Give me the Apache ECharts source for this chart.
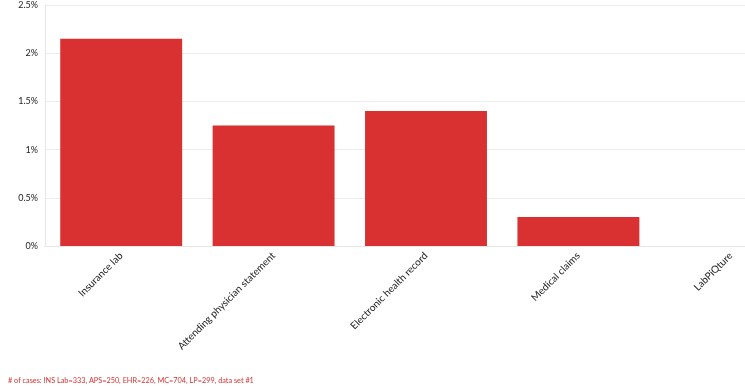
<!DOCTYPE html>
<html><head><meta charset="utf-8">
<script src="https://cdn.jsdelivr.net/npm/echarts@6/dist/echarts.min.js"></script>
<style>html,body{margin:0;padding:0;background:#fff;overflow:hidden;width:745px;height:391px}#c{width:807px;height:391px}</style>
</head><body><div id="c"></div>
<script>
const categories = ["Insurance lab","Attending physician statement","Electronic health record","Medical claims","LabPiQture"];
const values = [2.15, 1.25, 1.4, 0.3, 0];
const yTicks = [0, 0.5, 1, 1.5, 2, 2.5];
const footnote = "# of cases: INS Lab=333, APS=250, EHR=226, MC=704, LP=299, data set #1";

const chart = echarts.init(document.getElementById('c'));
chart.setOption({
  animation:false,
  textStyle:{fontFamily:'Lato, sans-serif'},
  graphic:[{type:'text',left:8,top:377,style:{text:footnote,fill:'#d93131',font:'7.3px Lato, sans-serif'}}],
  grid:{left:45,right:0,top:5,bottom:145,containLabel:false},
  xAxis:{type:'category',data:categories,
    axisLine:{lineStyle:{color:'#e6e6e6'}},
    axisTick:{alignWithLabel:true,length:4,lineStyle:{color:'#e6e6e6'}},
    axisLabel:{rotate:45,interval:0,color:'#222',fontSize:10,margin:8}},
  yAxis:{type:'value',min:0,max:2.5,interval:0.5,
    axisLine:{show:true,lineStyle:{color:'#e6e6e6'}},
    splitLine:{lineStyle:{color:'#ececec'}},
    axisLabel:{color:'#222',fontSize:9,margin:7,formatter:v=>yTicks.includes(v)?(v+'%'):''}},
  series:[{type:'bar',data:values,barCategoryGap:'20%',
    itemStyle:{color:'#d93131'}}]
});
</script></body></html>
